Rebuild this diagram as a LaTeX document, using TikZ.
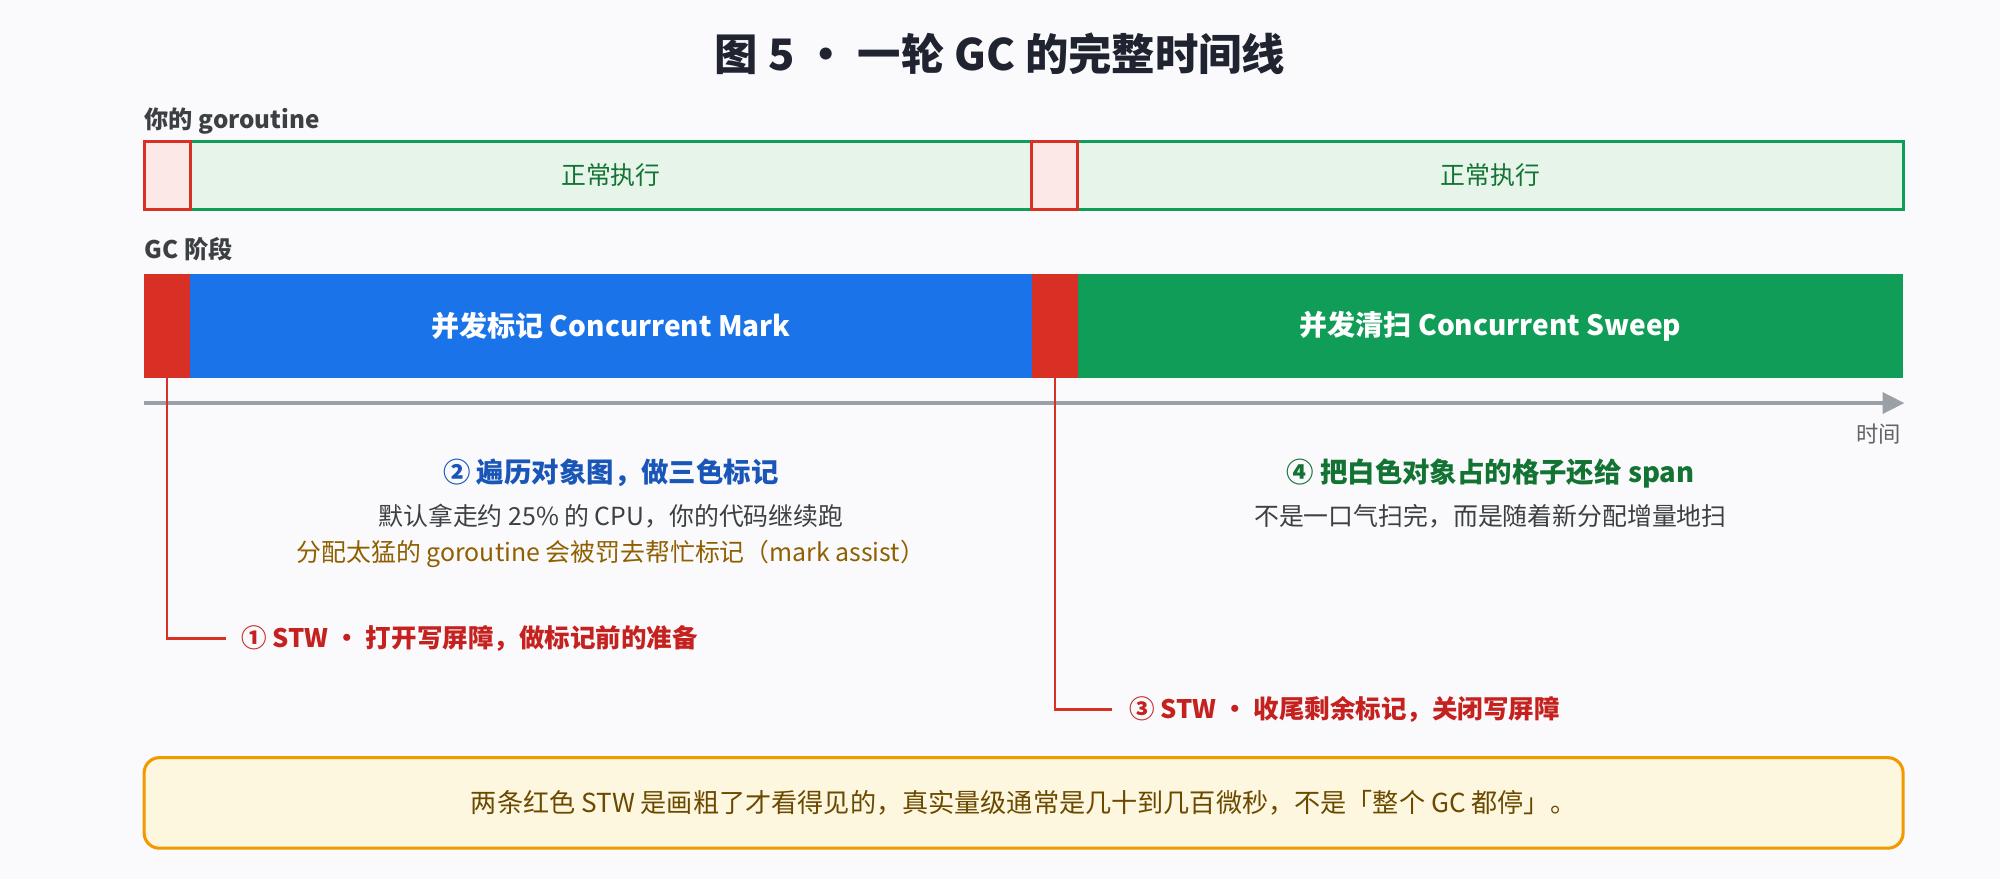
\documentclass[tikz,border=0pt]{standalone}
\usepackage{fontspec}
\setmainfont{Noto Sans CJK SC}
\usetikzlibrary{arrows.meta}
\definecolor{bgc}{HTML}{FAFAFD}
\definecolor{titlec}{HTML}{1F2430}
\definecolor{labelc}{HTML}{3C4043}
\definecolor{stwred}{HTML}{D93025}
\definecolor{stwtext}{HTML}{C5221F}
\definecolor{markblue}{HTML}{1A73E8}
\definecolor{sweepgreen}{HTML}{0F9D58}
\definecolor{paleRed}{HTML}{FCE8E6}
\definecolor{paleGreen}{HTML}{E6F4EA}
\definecolor{darkgreen}{HTML}{137333}
\definecolor{bluetext}{HTML}{1A56B8}
\definecolor{graytext}{HTML}{3C4043}
\definecolor{browntext}{HTML}{8F5F00}
\definecolor{axisc}{HTML}{9AA0A6}
\definecolor{timec}{HTML}{5F6368}
\definecolor{notefill}{HTML}{FEF7E0}
\definecolor{notedraw}{HTML}{F29900}
\definecolor{notetext}{HTML}{6B4A00}
\tikzset{
  fsz/.style={font=\fontsize{#1}{#1}\selectfont},
  rowbox/.style={inner sep=0pt, minimum height=26.5pt, line width=1.2pt},
  redbox/.style={rowbox, draw=stwred, fill=paleRed, minimum width=18pt},
  greenbox/.style={rowbox, draw=sweepgreen, fill=paleGreen, text=darkgreen, fsz=9.75pt},
  barbox/.style={inner sep=0pt, minimum height=40.5pt, text=white, font=\bfseries\fontsize{11pt}{11pt}\selectfont},
  rowlabel/.style={anchor=west, inner sep=0pt, text=labelc, font=\bfseries\fontsize{9.5pt}{9.5pt}\selectfont},
  stwlabel/.style={anchor=west, inner sep=0pt, text=stwtext, font=\bfseries\fontsize{10pt}{10pt}\selectfont},
  conn/.style={draw=stwred, line width=1.05pt},
  headtext/.style={inner sep=0pt, font=\bfseries\fontsize{10.75pt}{10.75pt}\selectfont},
  bodytext/.style={inner sep=0pt, font=\fontsize{9.75pt}{9.75pt}\selectfont},
}
\begin{document}
\begin{tikzpicture}[x=0.5pt, y=-0.5pt]
\useasboundingbox (0,0) rectangle (1568,689);
\fill[bgc] (0,0) rectangle (1568,689);

% title
\node[inner sep=0pt, text=titlec, font=\bfseries\fontsize{17pt}{17pt}\selectfont] (title) at (784,42) {图 5 · 一轮 GC 的完整时间线};

% goroutine row
\node[rowlabel] (glabel) at (113,95) {你的 goroutine};
\node[greenbox, minimum width=330pt] (run1) at (479,137.5) {正常执行};
\node[greenbox, minimum width=323.5pt] (run2) at (1168.5,137.5) {正常执行};
\node[redbox] (pause1) at (131,137.5) {};
\node[redbox] (pause2) at (827,137.5) {};

% GC phase row
\node[rowlabel] (gclabel) at (113,195) {GC 阶段};
\node[barbox, fill=stwred, minimum width=18pt] (stw1) at (131,255.5) {};
\node[barbox, fill=markblue, minimum width=330pt] (mark) at (479,255.5) {并发标记 Concurrent Mark};
\node[barbox, fill=stwred, minimum width=18pt] (stw2) at (827,255.5) {};
\node[barbox, fill=sweepgreen, minimum width=323.5pt] (sweep) at (1168.5,255.5) {并发清扫 Concurrent Sweep};

% time axis
\coordinate (axs) at (113,316);
\coordinate (axe) at (1493,316);
\draw[axisc, line width=1.3pt, -{Triangle[length=8.5pt,width=8.25pt]}] (axs) -- (axe);
\node[anchor=east, inner sep=0pt, text=timec, font=\fontsize{8.75pt}{8.75pt}\selectfont] (timel) at (1491,340) {时间};

% mark description
\node[headtext, text=bluetext] (markh) at (479,371) {② 遍历对象图，做三色标记};
\node[bodytext, text=graytext] (markb1) at (479,405) {默认拿走约 25\% 的 CPU，你的代码继续跑};
\node[bodytext, text=browntext] (markb2) at (479,434) {分配太猛的 goroutine 会被罚去帮忙标记（mark assist）};

% sweep description
\node[headtext, text=darkgreen] (sweeph) at (1168.5,371) {④ 把白色对象占的格子还给 span};
\node[bodytext, text=graytext] (sweepb) at (1168.5,405) {不是一口气扫完，而是随着新分配增量地扫};

% STW callouts
\node[stwlabel] (stw1l) at (189,500.5) {① STW · 打开写屏障，做标记前的准备};
\coordinate (c1) at (177,500.5);
\draw[conn] (stw1.south) |- (c1);
\node[stwlabel] (stw2l) at (885,556.5) {③ STW · 收尾剩余标记，关闭写屏障};
\coordinate (c2) at (872,556.5);
\draw[conn] (stw2.south) |- (c2);

% note
\node[draw=notedraw, fill=notefill, line width=1.2pt, rounded corners=6pt, minimum width=689.5pt, minimum height=35.5pt, inner sep=0pt, text=notetext, font=\fontsize{10.25pt}{10.25pt}\selectfont] (note) at (802.5,629.5) {两条红色 STW 是画粗了才看得见的，真实量级通常是几十到几百微秒，不是「整个 GC 都停」。};
\end{tikzpicture}
\end{document}
